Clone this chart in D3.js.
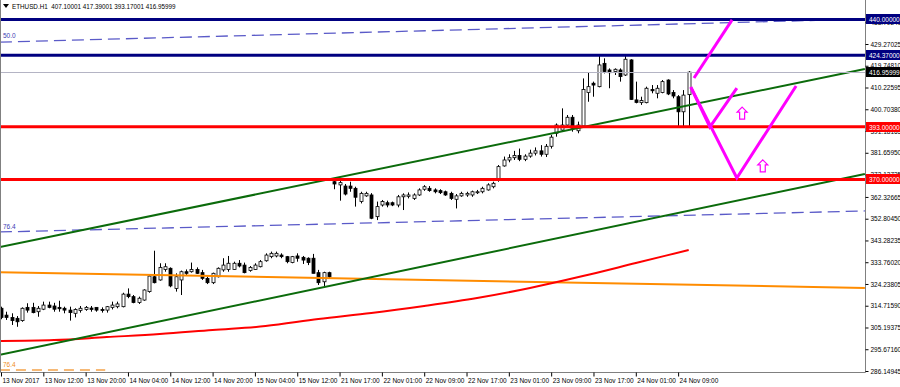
<!DOCTYPE html>
<html>
<head>
<meta charset="utf-8">
<script src="https://cdn.jsdelivr.net/npm/d3@7"></script>
<style>
  body { margin: 0; background: #fff; }
  svg { display: block; font-family: "Liberation Sans", Arial, sans-serif; }
</style>
</head>
<body>
<svg width="900" height="387"></svg>
<script>
// ETHUSD H1 candles, bar index 0..130
var opens = [313.6,310.6,309.6,309.2,308.2,314.0,314.0,312.1,313.2,315.0,
  314.6,314.0,313.6,312.8,311.4,312.6,313.1,313.7,314.0,313.1,
  312.8,314.0,314.3,314.3,319.8,318.7,316.1,317.2,320.9,327.4,
  326.0,330.6,331.1,322.3,326.0,329.6,329.6,330.6,329.2,326.7,
  324.8,327.4,330.4,330.6,330.6,333.3,332.5,330.1,330.6,331.8,
  334.4,336.2,336.5,336.9,336.2,333.6,336.5,335.9,335.5,335.5,
  329.2,325.2,329.2,
  369.0,367.6,367.1,367.1,366.1,360.3,362.8,363.2,353.7,358.8,
  359.8,359.8,358.8,362.4,362.6,361.7,363.2,365.7,366.1,365.4,
  365.1,364.6,363.9,361.3,362.8,363.2,363.2,364.2,364.6,365.4,
  366.8,369.7,375.9,378.5,379.5,380.5,378.8,380.2,381.5,382.5,
  381.0,384.5,390.2,391.6,393.8,397.2,391.3,393.4,408.0,412.1,
  410.6,420.8,417.9,417.2,417.9,415.7,422.3,404.8,403.6,403.6,
  409.4,407.7,408.0,413.5,408.0,406.2,399.6,407.10];
var highs = [314.3,312.1,311.4,310.2,314.0,315.8,316.0,314.6,316.5,316.5,
  316.0,316.9,314.3,314.3,313.6,314.6,314.6,314.6,314.0,314.0,
  314.6,316.5,316.5,320.4,322.3,319.4,318.7,321.9,328.2,338.8,
  333.3,333.3,331.5,328.9,330.1,330.6,333.6,331.5,330.4,327.4,
  329.2,331.5,335.5,336.5,334.0,334.7,333.6,332.1,333.3,334.7,
  337.65,338.4,338.4,337.65,336.5,336.5,337.65,336.5,335.9,337.4,
  330.4,329.6,329.6,
  369.7,370.0,368.0,369.0,366.8,364.6,364.6,364.0,360.3,361.0,
  360.7,360.3,363.2,363.9,364.3,363.9,366.1,367.5,367.1,366.1,
  365.7,365.1,364.6,363.6,364.6,364.6,365.1,365.4,366.8,368.3,
  369.0,376.3,380.0,381.0,382.5,383.5,381.0,383.0,384.0,385.0,
  385.5,389.5,394.5,401.1,398.2,398.2,395.3,414.2,416.7,412.8,
  424.0,423.0,418.6,418.6,418.6,424.0,422.6,412.8,406.2,410.6,
  411.3,411.3,413.5,413.8,409.1,406.9,409.1,417.39];
var lows = [308.8,308.5,306.3,305.5,307.7,311.7,311.4,309.9,312.8,313.6,
  312.1,312.1,311.4,308.2,309.6,311.7,312.5,312.1,312.1,311.7,
  311.7,313.1,313.6,314.0,318.0,315.8,315.5,316.9,320.4,324.5,
  325.7,329.6,322.8,320.9,319.4,328.2,329.2,328.6,326.0,324.2,
  324.2,327.1,329.6,329.6,330.4,331.5,328.9,329.6,330.4,331.5,
  334.0,335.5,335.9,335.5,333.3,333.3,334.0,333.0,332.5,328.9,
  323.8,323.1,326.7,
  365.7,360.7,363.0,364.6,358.1,359.5,362.4,352.6,352.2,358.1,
  357.8,358.3,357.8,356.6,361.7,361.0,362.8,365.0,364.6,363.9,
  363.6,362.8,361.0,357.3,362.4,362.4,362.4,363.6,363.9,365.1,
  366.1,369.0,375.6,377.5,378.5,378.0,378.0,379.5,380.5,380.0,
  379.8,383.5,388.7,391.0,393.1,390.9,390.2,392.8,404.0,406.2,
  410.3,416.4,409.9,415.7,412.8,415.3,404.8,403.3,402.6,403.3,
  407.7,405.5,407.7,406.9,405.5,393.1,393.1,393.17];
var closes = [309.6,309.6,308.2,307.7,313.6,312.8,311.7,313.6,315.0,314.0,
  313.2,313.4,312.8,311.7,313.1,313.6,314.0,313.1,312.8,312.6,
  314.3,315.0,315.5,319.8,318.7,316.1,318.0,321.6,327.7,324.8,
  331.5,331.8,323.4,327.4,329.6,328.9,330.6,328.9,326.7,324.8,
  328.9,331.1,332.5,333.3,333.3,332.1,329.2,331.5,332.5,334.0,
  336.9,337.65,337.65,336.2,334.0,336.2,335.5,334.7,333.6,328.9,
  324.8,329.2,327.4,
  368.0,368.6,363.6,366.1,362.2,363.9,363.9,353.0,358.1,360.3,
  358.8,358.8,362.4,363.2,363.2,363.2,365.4,366.8,365.1,364.6,
  364.2,363.2,361.7,362.8,363.9,363.9,364.6,364.6,366.1,367.6,
  368.3,375.6,378.5,379.5,380.5,378.8,380.2,381.5,382.5,381.0,
  384.5,388.5,393.8,393.8,397.2,392.4,393.8,409.4,410.6,411.3,
  420.1,417.2,416.7,418.2,415.0,422.6,405.0,403.7,404.5,409.9,
  408.8,409.9,412.8,407.4,406.5,399.6,406.9,416.96];

// time axis labels (every 8 bars)
var timeLabels = ["13 Nov 2017","13 Nov 12:00","13 Nov 20:00","14 Nov 04:00","14 Nov 12:00",
  "14 Nov 20:00","15 Nov 04:00","15 Nov 12:00","21 Nov 17:00","22 Nov 01:00","22 Nov 09:00",
  "22 Nov 17:00","23 Nov 01:00","23 Nov 09:00","23 Nov 17:00","24 Nov 01:00","24 Nov 09:00"];
var timeBars = [0,8,16,24,32,40,48,56,64,72,80,88,96,104,112,120,128];

// price axis labels
var priceTicks = ["438.79240","429.27025","419.74810","410.22595","400.70380","391.18165",
  "381.65950","372.13735","362.32665","352.80450","343.28235","333.76020","324.23805",
  "314.71590","305.19375","295.67160","286.14945"];

// moving average (red), sampled every 10 bars
var maBars = [0,10,20,30,40,50,60,70,80,90,100,110,120,130];
var maValues = [299.3,299.7,301.0,302.3,304.1,305.8,308.9,311.5,314.6,318.1,322.5,327.7,333.4,339.1];

// drawn objects: [bar, price]
var orangeLine = [[-0.2,329.4],[163.3,322.5]];
var channelUpper = [[-0.2,340.4],[163.3,418.3]];
var channelLower = [[-0.2,293.2],[163.3,372.4]];
var fib50 = [[-0.2,430.1],[163.3,440.2]];
var fib764 = [[-0.2,347.0],[163.3,356.2]];
var fibOrange = [[-0.2,286.6],[19.7,286.6]];
var hLevels = [440.0, 424.37, 393.0, 370.0];
var hColors = ["#000080","#000080","#ff0000","#ff0000"];
var bid = 416.95999;
var arrowUp = [[131.0,414.4],[138.2,439.8]];
var smallV = [[130.4,410.4],[134.0,392.9],[139.1,410.0]];
var bigV = [[130.4,410.4],[139.1,370.6],[150.3,410.9]];
var upArrows = [[140.1,399.0],[144.0,375.9]];

var svg = d3.select("svg");
var plotRight = 865, plotBottom = 372;

var x = d3.scaleLinear().domain([0, 130]).range([1, 688.7]);
var y = d3.scaleLinear().domain([286.14945, 429.27025]).range([371, 44]);

var plot = svg.append("g");
plot.append("clipPath").attr("id", "clip")
  .append("rect").attr("x", 0).attr("y", 12).attr("width", plotRight).attr("height", plotBottom - 12);
var g = plot.append("g").attr("clip-path", "url(#clip)");

// candles
var bars = d3.range(opens.length);
g.selectAll(".wick").data(bars).enter().append("line")
  .attr("x1", function(i) { return Math.round(x(i)) + 0.5; })
  .attr("x2", function(i) { return Math.round(x(i)) + 0.5; })
  .attr("y1", function(i) { return y(highs[i]); })
  .attr("y2", function(i) { return y(lows[i]); })
  .attr("stroke", "#000").attr("stroke-width", 1);
g.selectAll(".body").data(bars).enter().append("rect")
  .attr("x", function(i) { return Math.round(x(i)) - 1; })
  .attr("width", 3)
  .attr("y", function(i) { return y(Math.max(opens[i], closes[i])); })
  .attr("height", function(i) { return Math.max(1, Math.abs(y(opens[i]) - y(closes[i]))); })
  .attr("fill", function(i) { return closes[i] >= opens[i] ? "#fff" : "#000"; })
  .attr("stroke", "#000").attr("stroke-width", 0.8);

var line = d3.line().x(function(d) { return x(d[0]); }).y(function(d) { return y(d[1]); });

// fibonacci dashed lines
g.append("path").attr("d", line(fib50)).attr("fill", "none")
  .attr("stroke", "#5a5ac8").attr("stroke-width", 1.3).attr("stroke-dasharray", "12,6");
g.append("path").attr("d", line(fib764)).attr("fill", "none")
  .attr("stroke", "#5a5ac8").attr("stroke-width", 1.3).attr("stroke-dasharray", "12,6");
g.append("path").attr("d", line(fibOrange)).attr("fill", "none")
  .attr("stroke", "#f4a24a").attr("stroke-width", 1.5).attr("stroke-dasharray", "10,6");

// orange line and red MA
g.append("path").attr("d", line(orangeLine)).attr("fill", "none")
  .attr("stroke", "#ff8c00").attr("stroke-width", 2);
var maLine = d3.line().curve(d3.curveMonotoneX)
  .x(function(d, i) { return x(maBars[i]); }).y(function(d) { return y(d); });
g.append("path").attr("d", maLine(maValues)).attr("fill", "none")
  .attr("stroke", "#ff0000").attr("stroke-width", 2);

// channel
g.append("path").attr("d", line(channelUpper)).attr("fill", "none")
  .attr("stroke", "#0b6b0b").attr("stroke-width", 2);
g.append("path").attr("d", line(channelLower)).attr("fill", "none")
  .attr("stroke", "#0b6b0b").attr("stroke-width", 2);

// bid line
g.append("line").attr("x1", 0).attr("x2", plotRight)
  .attr("y1", Math.round(y(bid)) + 0.5).attr("y2", Math.round(y(bid)) + 0.5)
  .attr("stroke", "#b4b4c4").attr("stroke-width", 1);

// horizontal levels
g.selectAll(".hl").data(hLevels).enter().append("line")
  .attr("x1", 0).attr("x2", plotRight)
  .attr("y1", function(d) { return y(d); }).attr("y2", function(d) { return y(d); })
  .attr("stroke", function(d, i) { return hColors[i]; }).attr("stroke-width", 3);

// magenta drawings
[arrowUp, smallV, bigV].forEach(function(pts) {
  g.append("path").attr("d", line(pts)).attr("fill", "none")
    .attr("stroke", "#ff00ff").attr("stroke-width", 3).attr("stroke-linejoin", "miter");
});
g.selectAll(".up").data(upArrows).enter().append("path")
  .attr("transform", function(d) { return "translate(" + x(d[0]) + "," + y(d[1]) + ")"; })
  .attr("d", "M0,-6 L5,-1 L2.5,-1 L2.5,6 L-2.5,6 L-2.5,-1 L-5,-1 Z")
  .attr("fill", "#fff").attr("stroke", "#ff00ff").attr("stroke-width", 1.2);

// fib labels
svg.append("text").attr("x", 3).attr("y", y(fib50[0][1]) - 4).attr("font-size", "6.5px")
  .attr("fill", "#3c3cb4").text("50.0");
svg.append("text").attr("x", 3).attr("y", y(fib764[0][1]) - 3).attr("font-size", "6.5px")
  .attr("fill", "#3c3cb4").text("76.4");
svg.append("text").attr("x", 3).attr("y", y(fibOrange[0][1]) - 3).attr("font-size", "6.5px")
  .attr("fill", "#f08c20").text("76.4");

// frame
svg.append("path").attr("d", "M0.5,0 V" + (plotBottom + 0.5) + " H" + (plotRight + 0.5) + " V0")
  .attr("fill", "none").attr("stroke", "#808080").attr("stroke-width", 1);

// price axis
var yAxis = svg.append("g").attr("transform", "translate(" + (plotRight + 0.5) + ",0)")
  .call(d3.axisRight(y).tickValues(priceTicks.map(Number)).tickSize(3).tickPadding(2)
    .tickFormat(function(d, i) { return priceTicks[i]; }));
yAxis.select(".domain").remove();
yAxis.selectAll("line").attr("stroke", "#000");
yAxis.selectAll("text").attr("font-size", "6.5px").attr("fill", "#000")
  .attr("font-family", "Liberation Sans, Arial, sans-serif");

// price level boxes
var boxLevels = hLevels.concat([bid]);
var boxColors = hColors.concat(["#000"]);
var boxes = svg.selectAll(".pbox").data(boxLevels).enter().append("g")
  .attr("transform", function(d) { return "translate(" + (plotRight + 1) + "," + Math.round(y(d)) + ")"; });
boxes.append("rect").attr("x", 0).attr("y", -5).attr("width", 35).attr("height", 10)
  .attr("fill", function(d, i) { return boxColors[i]; });
boxes.append("text").attr("x", 3).attr("y", 2.5).attr("font-size", "6.5px").attr("fill", "#fff")
  .text(function(d) { return d.toFixed(5); });

// time axis
var xAxis = svg.append("g").attr("transform", "translate(0," + (plotBottom + 0.5) + ")")
  .call(d3.axisBottom(x).tickValues(timeBars).tickSize(4).tickPadding(2)
    .tickFormat(function(d, i) { return timeLabels[i]; }));
xAxis.select(".domain").remove();
xAxis.selectAll("line").attr("stroke", "#000");
xAxis.selectAll("text").attr("text-anchor", "start").attr("dx", "1")
  .attr("font-size", "6.5px").attr("fill", "#000")
  .attr("font-family", "Liberation Sans, Arial, sans-serif");

// header
svg.append("path").attr("d", "M3,4 L9,4 L6,8 Z").attr("fill", "#000");
svg.append("text").attr("x", 12).attr("y", 9).attr("font-size", "6.3px").attr("fill", "#000")
  .attr("xml:space", "preserve")
  .text("ETHUSD.H1  407.10001 417.39001 393.17001 416.95999");
</script>
</body>
</html>
